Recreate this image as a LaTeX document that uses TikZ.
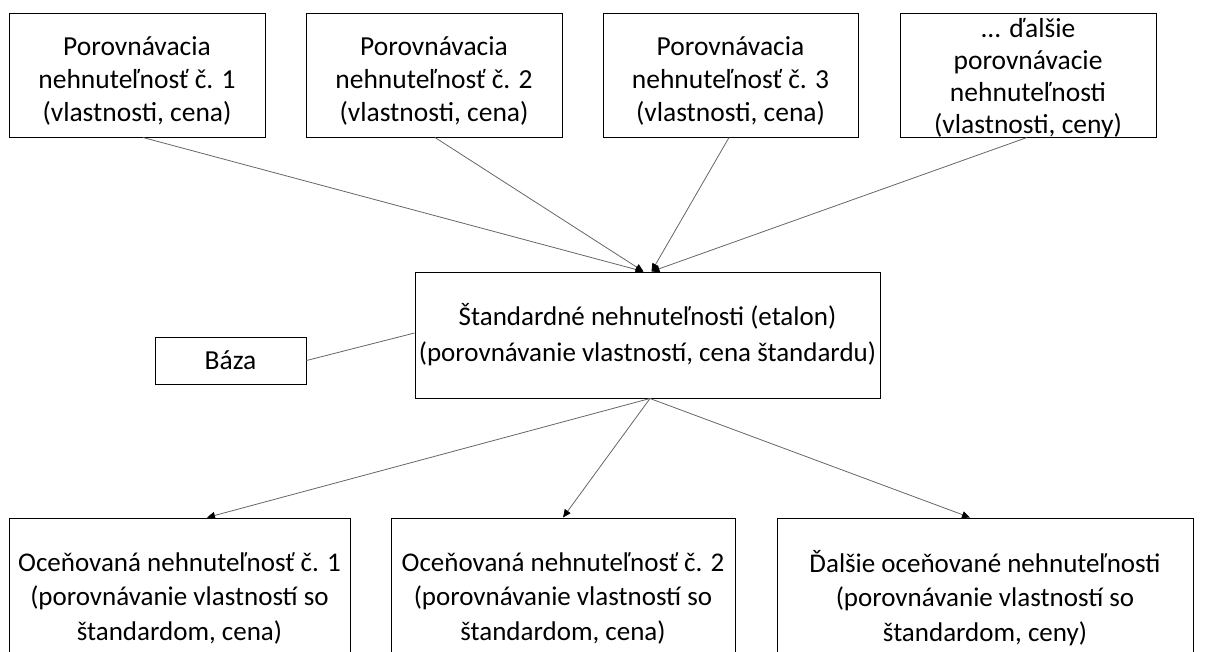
\documentclass[tikz,border=0pt]{standalone}
\usepackage{fontspec}
\setmainfont{Carlito}
\usetikzlibrary{arrows.meta}
\begin{document}
\begin{tikzpicture}[x=1pt,y=-1pt,
 box/.style={draw=black, line width=1pt, align=center, inner sep=0pt, font=\fontsize{27}{33.5}\selectfont},
 txt/.style={align=center, inner sep=0pt, font=\fontsize{27.5}{33}\selectfont},
 conn/.style={draw=black!60, line width=0.8pt},
 arr/.style={conn,-{Triangle[length=8pt,width=7pt,color=black]}}]
\useasboundingbox (0,0) rectangle (1209,651);
\clip (0,0) rectangle (1209,651);
\node[box, minimum width=256, minimum height=124] (p1) at (137,75) {};
\node[txt] (p1t) at (137,81) {Porovnávacia\\nehnuteľnosť č. 1\\(vlastnosti, cena)};
\node[box, minimum width=256, minimum height=124] (p2) at (434,75) {};
\node[txt] (p2t) at (434,81) {Porovnávacia\\nehnuteľnosť č. 2\\(vlastnosti, cena)};
\node[box, minimum width=255, minimum height=124] (p3) at (730.5,75) {};
\node[txt] (p3t) at (730.5,81) {Porovnávacia\\nehnuteľnosť č. 3\\(vlastnosti, cena)};
\node[box, minimum width=256, minimum height=124] (p4) at (1028,75) {};
\node[txt, font=\fontsize{27.5}{32}\selectfont] (p4t) at (1028,78) {... ďalšie\\porovnávacie\\nehnuteľnosti\\(vlastnosti, ceny)};
\node[box, minimum width=465, minimum height=126, font=\fontsize{27}{36}\selectfont] (c) at (647.5,335) {Štandardné nehnuteľnosti (etalon)\\(porovnávanie vlastností, cena štandardu)};
\node[box, minimum width=151, minimum height=47, font=\fontsize{27.5}{33}\selectfont] (base) at (230.5,360.5) {Báza};
\node[box, minimum width=341, minimum height=160, font=\fontsize{27}{34.5}\selectfont] (b1) at (179.5,598) {Oceňovaná nehnuteľnosť č. 1\\(porovnávanie vlastností so\\štandardom, cena)};
\node[box, minimum width=344, minimum height=160, font=\fontsize{27}{34.5}\selectfont] (b2) at (563,598) {Oceňovaná nehnuteľnosť č. 2\\(porovnávanie vlastností so\\štandardom, cena)};
\node[box, minimum width=416, minimum height=160, font=\fontsize{27}{34.5}\selectfont] (b3) at (985,598) {Ďalšie oceňované nehnuteľnosti\\(porovnávanie vlastností so\\štandardom, ceny)};
\draw[arr] ([xshift=6]p1.south) -- ([xshift=-4]c.north);
\draw[arr] ([xshift=1]p2.south) -- ([xshift=-4]c.north);
\draw[arr] ([xshift=-1.5]p3.south) -- ([xshift=4]c.north);
\draw[arr] ([xshift=-1]p4.south) -- ([xshift=4]c.north);
\draw[conn] (base.east) -- ([yshift=2]c.west);
\draw[arr] ([xshift=2.5]c.south) -- ([xshift=27.5]b1.north);
\draw[arr] ([xshift=2.5]c.south) -- (b2.north);
\draw[arr] ([xshift=2.5]c.south) -- ([xshift=-15]b3.north);
\end{tikzpicture}
\end{document}
